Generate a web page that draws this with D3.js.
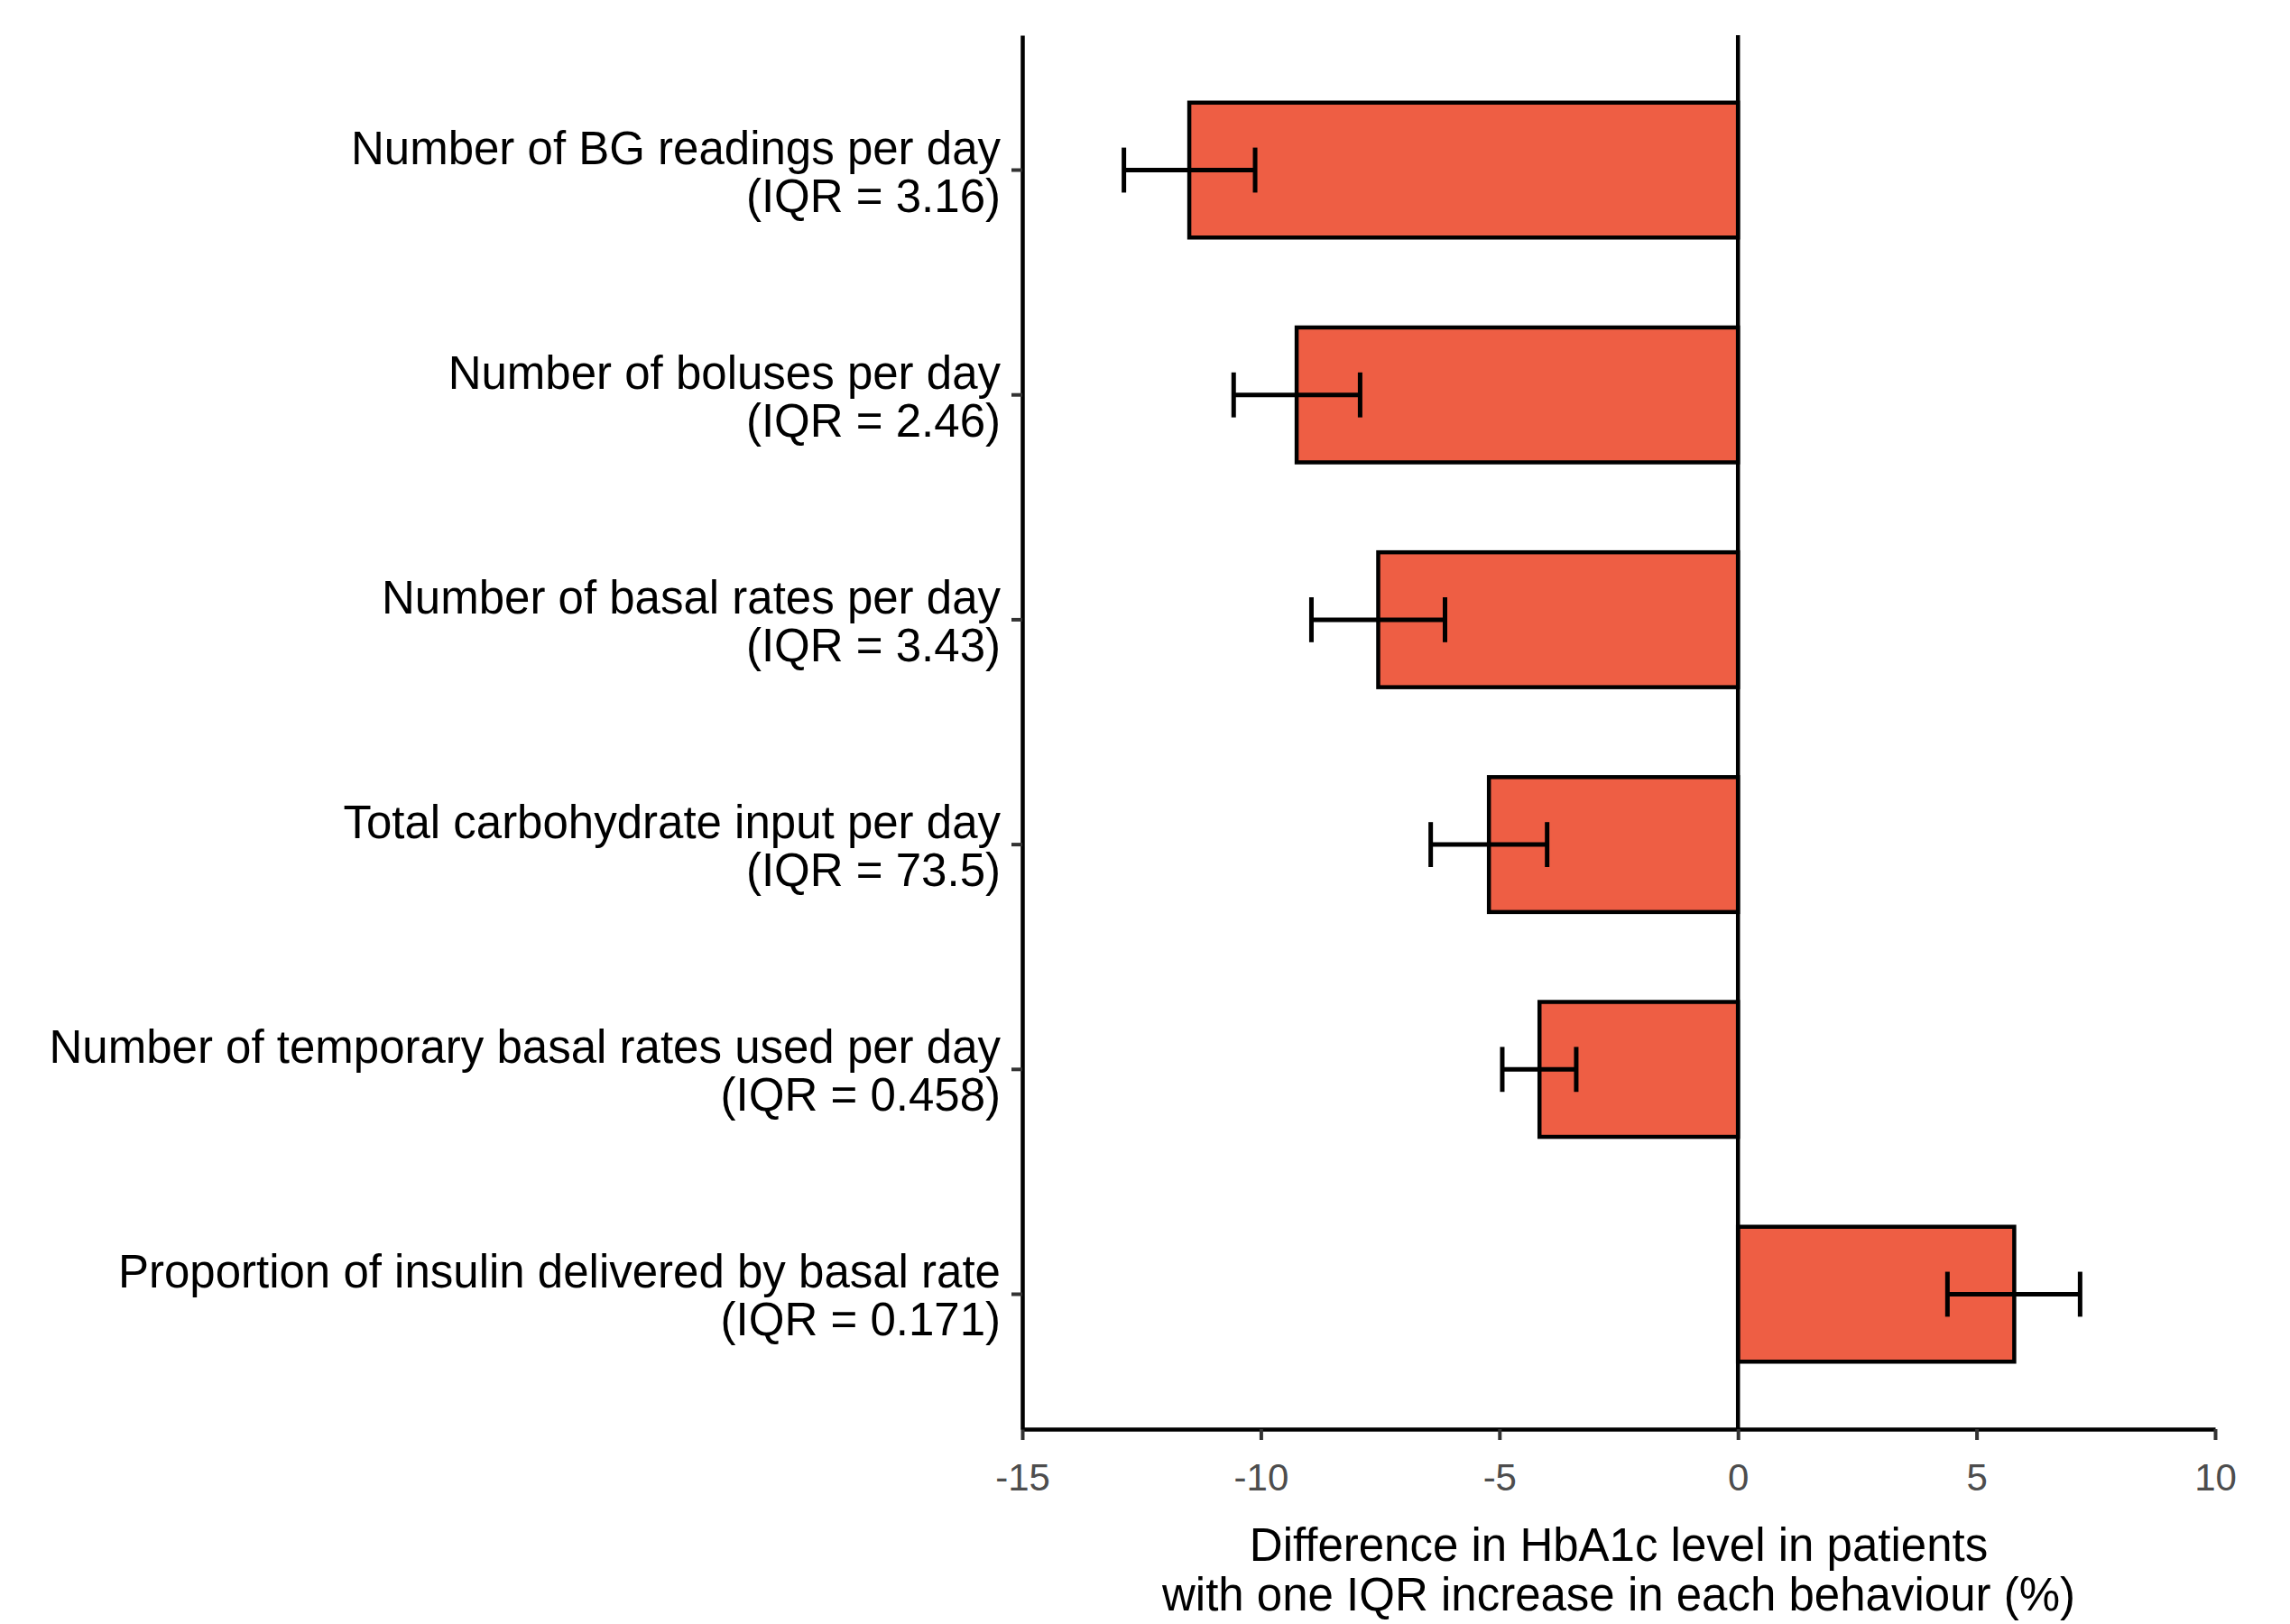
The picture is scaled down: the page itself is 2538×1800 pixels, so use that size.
<!DOCTYPE html>
<html>
<head>
<meta charset="utf-8">
<script src="https://cdn.jsdelivr.net/npm/d3@7"></script>
<style>
  html, body { margin: 0; padding: 0; background: #ffffff; }
  svg { display: block; }
</style>
</head>
<body>
<svg id="chart" width="2538" height="1800"></svg>
<script>
// ---- data ----
const categories = [
  "Number of BG readings per day",
  "Number of boluses per day",
  "Number of basal rates per day",
  "Total carbohydrate input per day",
  "Number of temporary basal rates used per day",
  "Proportion of insulin delivered by basal rate"
];
const iqrLabels = ["(IQR = 3.16)", "(IQR = 2.46)", "(IQR = 3.43)", "(IQR = 73.5)", "(IQR = 0.458)", "(IQR = 0.171)"];
const estimates = [-11.5, -9.25, -7.54, -5.22, -4.16, 5.79];
const ciLower  = [-12.87, -10.57, -8.94, -6.44, -4.94, 4.39];
const ciUpper  = [-10.12, -7.92, -6.14, -4.00, -3.39, 7.17];
const xTicks = [-15, -10, -5, 0, 5, 10];
const xTitle = ["Difference in HbA1c level in patients", "with one IQR increase in each behaviour (%)"];

// ---- layout ----
const panel = { left: 1133, right: 2455, top: 39, bottom: 1584 };
const svg = d3.select("#chart");
const font = "'Liberation Sans', Arial, Helvetica, sans-serif";

const x = d3.scaleLinear().domain([-15, 10]).range([panel.left, panel.right]);
const y = d3.scaleBand().domain(categories).range([panel.top, panel.bottom])
  .paddingInner(0.4).paddingOuter(0.3);

const rows = categories.map((c, i) => ({ cat: c, iqr: iqrLabels[i], est: estimates[i], lo: ciLower[i], hi: ciUpper[i] }));

// bars
svg.append("g").selectAll("rect").data(rows).join("rect")
  .attr("x", d => x(Math.min(0, d.est)))
  .attr("y", d => y(d.cat))
  .attr("width", d => Math.abs(x(d.est) - x(0)))
  .attr("height", y.bandwidth())
  .attr("fill", "#EE5E44")
  .attr("stroke", "#000")
  .attr("stroke-width", 4.5);

// zero line
svg.append("line")
  .attr("x1", x(0)).attr("x2", x(0))
  .attr("y1", panel.top).attr("y2", panel.bottom)
  .attr("stroke", "#000").attr("stroke-width", 4.5);

// error bars
const capH = y.step() * 0.2;
const eb = svg.append("g").selectAll("g").data(rows).join("g")
  .attr("stroke", "#000").attr("stroke-width", 5).attr("fill", "none");
eb.append("line")
  .attr("x1", d => x(d.lo)).attr("x2", d => x(d.hi))
  .attr("y1", d => y(d.cat) + y.bandwidth() / 2).attr("y2", d => y(d.cat) + y.bandwidth() / 2);
eb.append("line")
  .attr("x1", d => x(d.lo)).attr("x2", d => x(d.lo))
  .attr("y1", d => y(d.cat) + y.bandwidth() / 2 - capH / 2).attr("y2", d => y(d.cat) + y.bandwidth() / 2 + capH / 2);
eb.append("line")
  .attr("x1", d => x(d.hi)).attr("x2", d => x(d.hi))
  .attr("y1", d => y(d.cat) + y.bandwidth() / 2 - capH / 2).attr("y2", d => y(d.cat) + y.bandwidth() / 2 + capH / 2);

// x axis
const xAxis = svg.append("g")
  .attr("transform", `translate(0,${panel.bottom})`)
  .call(d3.axisBottom(x).tickValues(xTicks).tickFormat(d3.format("d")).tickSize(12).tickSizeOuter(0).tickPadding(26));
xAxis.select(".domain").attr("stroke", "#000").attr("stroke-width", 4.5);
xAxis.selectAll(".tick line").attr("stroke", "#333").attr("stroke-width", 4);
xAxis.selectAll(".tick text").attr("fill", "#4d4d4d").attr("font-family", font).attr("font-size", 42)
  .text(d => d < 0 ? "-" + Math.abs(d) : String(d));

// y axis
const yAxis = svg.append("g")
  .attr("transform", `translate(${panel.left},0)`)
  .call(d3.axisLeft(y).tickSize(12).tickSizeOuter(0).tickPadding(15));
yAxis.select(".domain").attr("stroke", "#000").attr("stroke-width", 4.5);
yAxis.selectAll(".tick line").attr("stroke", "#333").attr("stroke-width", 4);
yAxis.selectAll(".tick text").each(function(d, i) {
  const t = d3.select(this);
  t.text(null).attr("dy", null)
    .attr("fill", "#000").attr("font-family", font).attr("font-size", 51)
    .attr("text-anchor", "end");
  t.append("tspan").attr("x", -24).attr("y", -7).text(d);
  t.append("tspan").attr("x", -24).attr("y", 46).text(iqrLabels[categories.indexOf(d)]);
});

// x title
const tx = (panel.left + panel.right) / 2;
svg.append("text")
  .attr("x", tx).attr("y", 1730)
  .attr("text-anchor", "middle").attr("font-family", font).attr("font-size", 51).attr("fill", "#000")
  .text(xTitle[0]);
svg.append("text")
  .attr("x", tx).attr("y", 1785)
  .attr("text-anchor", "middle").attr("font-family", font).attr("font-size", 51).attr("fill", "#000")
  .text(xTitle[1]);
</script>
</body>
</html>
